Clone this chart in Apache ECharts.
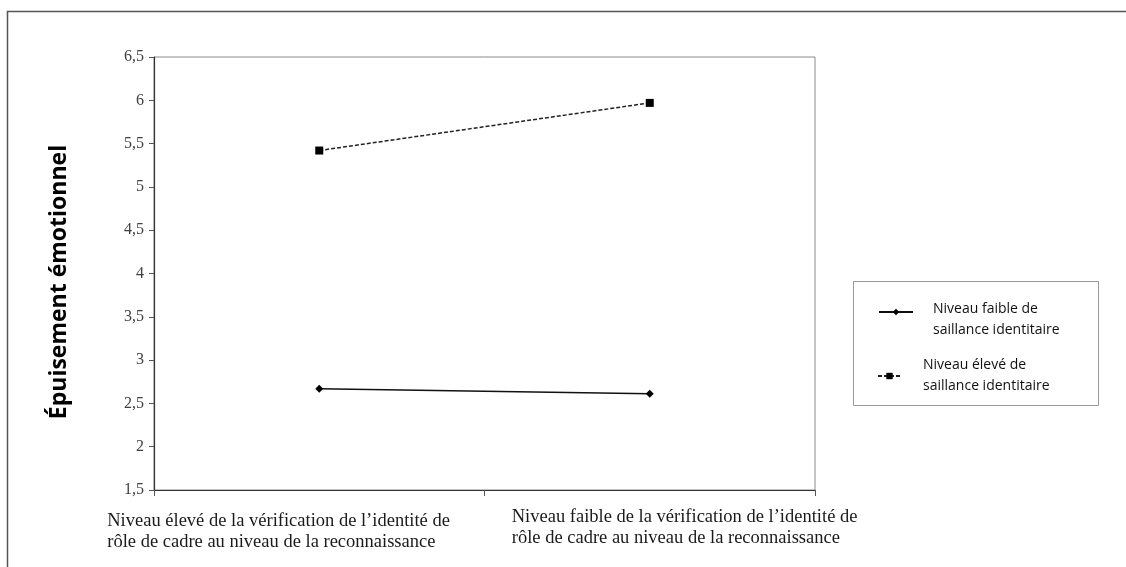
<!DOCTYPE html>
<html>
<head>
<meta charset="utf-8">
<script src="https://cdn.jsdelivr.net/npm/echarts@6/dist/echarts.min.js"></script>
<style>html,body{margin:0;padding:0;background:#fff}#c{width:1126px;height:567px}</style>
</head>
<body>
<div id="c"></div>
<script>
const categories = ['haut', 'bas'];
const categoryLabels = [
  "Niveau élevé de la vérification de l’identité de\nrôle de cadre au niveau de la reconnaissance",
  "Niveau faible de la vérification de l’identité de\nrôle de cadre au niveau de la reconnaissance"
];
const seriesNames = ['Niveau faible de\nsaillance identitaire', 'Niveau élevé de\nsaillance identitaire'];
const lowSalience = [2.67, 2.61];
const highSalience = [5.42, 5.97];
const yTicks = { min: 1.5, max: 6.5, interval: 0.5 };
const yTitle = 'Épuisement émotionnel';

const chart = echarts.init(document.getElementById('c'), null, { renderer: 'canvas' });
const legendRich = {
  pad: { fontSize: 10, lineHeight: 16 },
  t: { fontFamily: 'Open Sans', fontSize: 14, color: '#111', lineHeight: 21 }
};
const option = {
  animation: false,
  backgroundColor: '#fff',
  grid: { left: 154, top: 57, right: 311, bottom: 77, show: true, borderColor: '#8a8a8a', borderWidth: 1, backgroundColor: 'transparent' },
  xAxis: {
    type: 'category',
    data: categories,
    boundaryGap: true,
    axisLine: { lineStyle: { color: '#333', width: 1.2 } },
    axisTick: { show: true, length: 6, alignWithLabel: false, lineStyle: { color: '#555' } },
    axisLabel: { show: false }
  },
  yAxis: {
    type: 'value',
    min: yTicks.min, max: yTicks.max, interval: yTicks.interval,
    splitLine: { show: false },
    axisLine: { show: true, lineStyle: { color: '#333', width: 1.2 } },
    axisTick: { show: true, length: 5, lineStyle: { color: '#555' } },
    axisLabel: {
      margin: 10,
      color: '#404040',
      fontFamily: 'Liberation Serif',
      fontSize: 16,
      formatter: v => String(v).replace('.', ',')
    }
  },
  legend: [
    {
      data: [seriesNames[0]],
      left: 873, top: 278,
      itemWidth: 34, itemHeight: 8,
      formatter: name => '{pad| }\n' + name.split('\n').map(l => '{t|' + l + '}').join('\n'),
      textStyle: { fontFamily: 'Open Sans', fontSize: 14, color: '#111', lineHeight: 21, padding: [0, 0, 0, 15], rich: legendRich }
    },
    {
      data: [seriesNames[1]],
      left: 872, top: 350,
      itemWidth: 23, itemHeight: 8,
      textStyle: { fontFamily: 'Open Sans', fontSize: 14, color: '#111', lineHeight: 21, padding: [0, 0, 0, 17] }
    }
  ],
  series: [
    {
      name: seriesNames[0], type: 'line', data: lowSalience,
      symbol: 'diamond', symbolSize: 8,
      lineStyle: { color: '#111', width: 1.5, type: 'solid' },
      itemStyle: { color: '#000' }
    },
    {
      name: seriesNames[1], type: 'line', data: highSalience,
      symbol: 'rect', symbolSize: 8,
      lineStyle: { color: '#222', width: 1.5, type: [4, 2] },
      itemStyle: { color: '#000' }
    }
  ],
  graphic: [
    { id: 'frame', type: 'rect', shape: { x: 7.5, y: 11.5, width: 1200, height: 700 }, style: { fill: 'none', stroke: '#555', lineWidth: 1.5 }, silent: true },
    { id: 'legendBox', type: 'rect', shape: { x: 853.5, y: 281.5, width: 245, height: 124 }, style: { fill: 'none', stroke: '#999', lineWidth: 1 }, silent: true },
    { id: 'ytitle', type: 'text', x: 59, y: 282, rotation: Math.PI / 2,
      style: { text: yTitle, font: 'bold 23px "Open Sans"', fill: '#000', align: 'center', verticalAlign: 'middle' } }
  ]
};
chart.setOption(option);

const offsets = [-212, -138];
const tops = [511, 507];
const labelGraphics = categories.map((c, i) => {
  const x = chart.convertToPixel({ xAxisIndex: 0 }, c);
  return {
    id: 'xl' + i, type: 'text', x: x + offsets[i], y: tops[i],
    style: { text: categoryLabels[i], font: '18.5px "Liberation Serif"', fill: '#1a1a1a', lineHeight: 21, align: 'left', verticalAlign: 'top' }
  };
});
chart.setOption({ graphic: labelGraphics });
</script>
</body>
</html>
